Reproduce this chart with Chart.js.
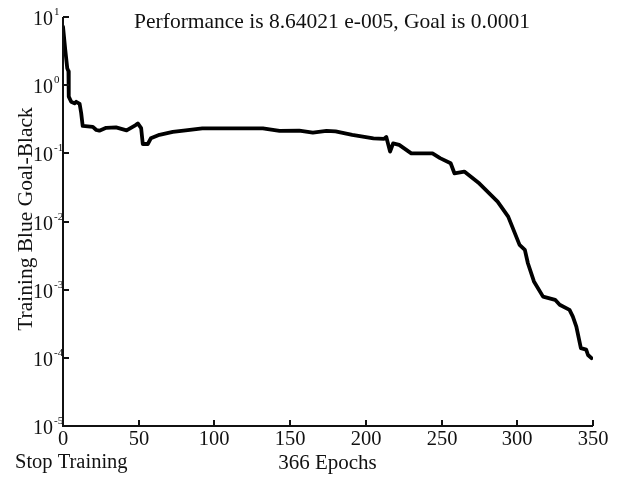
<!DOCTYPE html>
<html>
<head>
<meta charset="utf-8">
<script src="https://cdn.jsdelivr.net/npm/chart.js@4"></script>
<style>
  html, body { margin: 0; padding: 0; background: #fff; }
  #wrap { width: 621px; height: 479px; }
</style>
</head>
<body>
<div id="wrap"><canvas id="c" width="621" height="479"></canvas></div>
<script>
// ---- data ----
const epochs = [0, 1.5, 2.8, 3.6, 3.8, 5.4, 7.6, 8.7, 11, 12, 13, 19.7, 22, 24, 28.5, 35, 42, 48, 49.4, 51.6, 52.7, 56, 58, 63.7, 72.5, 81, 92, 132, 143, 156, 165, 174, 180, 191, 205, 212, 213.5, 216, 218, 222, 230, 244, 249, 256, 258.5, 265, 275, 287, 294, 301.5, 305, 307, 311, 317, 325, 328, 334.5, 336.7, 339, 342, 345.5, 346.7, 349];
const performance = [7.2, 3.3, 1.77, 1.6, 0.68, 0.57, 0.54, 0.57, 0.53, 0.39, 0.252, 0.245, 0.22, 0.215, 0.237, 0.24, 0.217, 0.26, 0.275, 0.234, 0.137, 0.137, 0.166, 0.187, 0.206, 0.218, 0.233, 0.233, 0.213, 0.215, 0.201, 0.213, 0.21, 0.186, 0.166, 0.163, 0.174, 0.106, 0.14, 0.133, 0.1, 0.1, 0.085, 0.0716, 0.051, 0.054, 0.036, 0.0196, 0.0118, 0.00454, 0.00384, 0.00244, 0.00132, 0.00079, 0.00071, 0.0006, 0.000506, 0.000403, 0.000288, 0.000139, 0.000132, 0.00011, 0.0000988];
const xTicks = [0, 50, 100, 150, 200, 250, 300, 350];
const yTickExponents = [-5, -4, -3, -2, -1, 0, 1];
const titleText = "Performance is 8.64021 e-005, Goal is 0.0001";
const yLabelText = "Training Blue Goal-Black";
const xLabelText = "366 Epochs";
const leftLabelText = "Stop Training";

const FONT = '"Liberation Serif", "Times New Roman", serif';

const axesPlugin = {
  id: 'matlabAxes',
  afterDraw(chart) {
    const ctx = chart.ctx;
    const xs = chart.scales.x, ys = chart.scales.y;
    const left = xs.getPixelForValue(0);
    const right = xs.getPixelForValue(350);
    const top = ys.getPixelForValue(10);
    const bottom = ys.getPixelForValue(1e-5);
    ctx.save();
    ctx.strokeStyle = '#111';
    ctx.fillStyle = '#111';
    ctx.lineWidth = 2;
    // axis lines
    ctx.beginPath();
    ctx.moveTo(left, top);
    ctx.lineTo(left, bottom);
    ctx.lineTo(right, bottom);
    ctx.stroke();
    // y ticks + labels
    yTickExponents.forEach(e => {
      const y = Math.round(ys.getPixelForValue(Math.pow(10, e)));
      ctx.beginPath();
      ctx.moveTo(left, y);
      ctx.lineTo(left + 6, y);
      ctx.stroke();
      ctx.font = '20px ' + FONT;
      ctx.textAlign = 'right';
      ctx.textBaseline = 'alphabetic';
      const baseX = left - 10;
      ctx.fillText('10', baseX, y + 8);
      ctx.font = '11px ' + FONT;
      ctx.textAlign = 'left';
      ctx.fillText(String(e), baseX + 1, y - 2);
    });
    // x ticks + labels
    xTicks.forEach(v => {
      const x = Math.round(xs.getPixelForValue(v));
      ctx.beginPath();
      ctx.moveTo(x, bottom);
      ctx.lineTo(x, bottom - 6);
      ctx.stroke();
      ctx.font = '20.5px ' + FONT;
      ctx.textAlign = 'center';
      ctx.textBaseline = 'alphabetic';
      ctx.fillText(String(v), x, bottom + 19);
    });
    // title
    ctx.font = '21.5px ' + FONT;
    ctx.textAlign = 'center';
    ctx.fillText(titleText, 332, 28);
    // x label
    ctx.font = '21px ' + FONT;
    ctx.fillText(xLabelText, 327.5, 469);
    ctx.font = '20.5px ' + FONT;
    ctx.textAlign = 'left';
    ctx.fillText(leftLabelText, 15, 468);
    // y label
    ctx.save();
    ctx.font = '21.5px ' + FONT;
    ctx.translate(32, 219);
    ctx.rotate(-Math.PI / 2);
    ctx.textAlign = 'center';
    ctx.fillText(yLabelText, 0, 0);
    ctx.restore();
    ctx.restore();
  }
};

const points = epochs.map((e, i) => ({ x: e, y: performance[i] }));

new Chart(document.getElementById('c'), {
  type: 'line',
  data: {
    datasets: [{
      data: points,
      borderColor: '#000',
      borderWidth: 3.8,
      pointRadius: 0,
      tension: 0,
      fill: false,
      borderJoinStyle: 'round',
      borderCapStyle: 'round'
    }]
  },
  options: {
    responsive: false,
    animation: false,
    devicePixelRatio: 1,
    layout: { padding: { left: 63, top: 17, right: 28, bottom: 53 } },
    plugins: { legend: { display: false }, tooltip: { enabled: false }, title: { display: false } },
    scales: {
      x: { type: 'linear', min: 0, max: 350, display: false },
      y: { type: 'logarithmic', min: 1e-5, max: 10, display: false }
    }
  },
  plugins: [axesPlugin]
});
</script>
</body>
</html>
